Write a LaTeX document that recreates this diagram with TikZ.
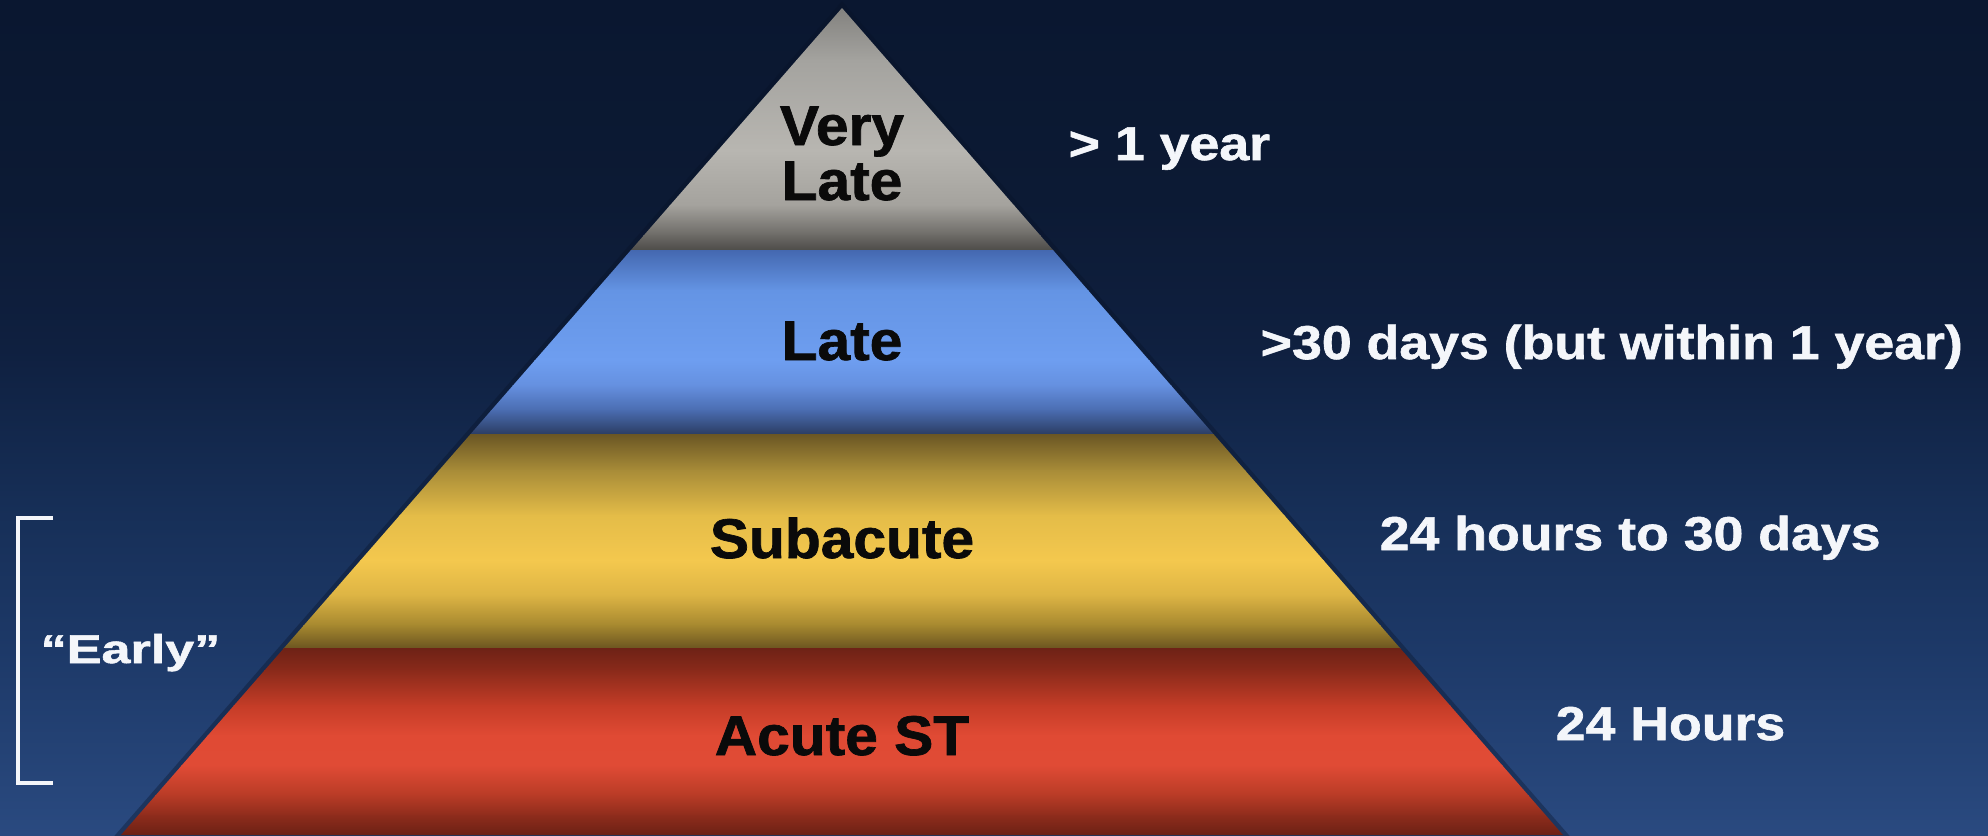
\documentclass[tikz,border=0pt]{standalone}
\usepackage{fontspec}
\setmainfont{Liberation Sans}[BoldFeatures={FakeBold=1.2}]
\usepackage{graphicx}
% background
\definecolor{bgA}{HTML}{0A1730}
\definecolor{bgB}{HTML}{0C1A34}
\definecolor{bgC}{HTML}{0F2040}
\definecolor{bgD}{HTML}{162E56}
\definecolor{bgE}{HTML}{1D3968}
\definecolor{bgF}{HTML}{2A4A80}
% gray band
\definecolor{gA}{HTML}{7E7D7A}
\definecolor{gB}{HTML}{A4A39F}
\definecolor{gC}{HTML}{B8B6B1}
\definecolor{gD}{HTML}{A4A29D}
\definecolor{gE}{HTML}{6C6A66}
\definecolor{gF}{HTML}{4C4B48}
% blue band
\definecolor{bA}{HTML}{4468B0}
\definecolor{bB}{HTML}{6494E4}
\definecolor{bC}{HTML}{6E9EF0}
\definecolor{bD}{HTML}{6590E0}
\definecolor{bE}{HTML}{4A6CB0}
\definecolor{bF}{HTML}{2A3C62}
% yellow band
\definecolor{yA}{HTML}{6A5624}
\definecolor{yB}{HTML}{A88C38}
\definecolor{yC}{HTML}{E4BC48}
\definecolor{yD}{HTML}{F4C84E}
\definecolor{yE}{HTML}{DDB444}
\definecolor{yF}{HTML}{A6882F}
\definecolor{yG}{HTML}{6A5420}
% red band
\definecolor{rA}{HTML}{6E2216}
\definecolor{rB}{HTML}{8A2A1A}
\definecolor{rC}{HTML}{C43C27}
\definecolor{rD}{HTML}{E04A34}
\definecolor{rE}{HTML}{E04B35}
\definecolor{rF}{HTML}{B83B26}
\definecolor{rG}{HTML}{8E2C1C}
\definecolor{rH}{HTML}{6A2014}
\definecolor{lblwhite}{HTML}{F4F6FA}
\definecolor{lblblack}{HTML}{0A0A0A}
\definecolor{edgeshadow}{HTML}{081226}

\newcommand\vgrad[4]{\shade[top color=#3, bottom color=#4, draw=none] (0,#1) rectangle (1988,#2+0.8);}

\tikzset{
  tierlabel/.style={inner sep=0pt, anchor=base, text=lblblack,
    font=\fontsize{15.9}{18}\selectfont\bfseries},
  timelabel/.style={inner sep=0pt, anchor=base west, text=lblwhite,
    font=\fontsize{13.5}{16}\selectfont\bfseries},
  earlylabel/.style={inner sep=0pt, anchor=base west, text=lblwhite,
    font=\fontsize{11.4}{14}\selectfont\bfseries},
  bracketline/.style={draw=lblwhite, line width=1.4pt},
}
\newcommand\tierstr[1]{\scalebox{1.05}[1]{#1}}
\newcommand\timestr[1]{\scalebox{1.13}[1]{#1}}

\begin{document}
\begin{tikzpicture}[x=0.01cm, y=-0.01cm]
\useasboundingbox (0,0) rectangle (1988,835);
% background
\vgrad{0}{200}{bgA}{bgB}
\vgrad{200}{350}{bgB}{bgC}
\vgrad{350}{500}{bgC}{bgD}
\vgrad{500}{650}{bgD}{bgE}
\vgrad{650}{835}{bgE}{bgF}

% pyramid
\coordinate (apex) at (842,8);
\coordinate (bl) at (121,835);
\coordinate (br) at (1563,835);
\draw[edgeshadow, opacity=0.35, line width=2.5pt, line join=miter] (apex) -- (br) -- (bl) -- cycle;
\begin{scope}
\clip (apex) -- (br) -- (bl) -- cycle;
% gray
\vgrad{0}{60}{gA}{gB}
\vgrad{60}{150}{gB}{gC}
\vgrad{150}{205}{gC}{gD}
\vgrad{205}{235}{gD}{gE}
\vgrad{235}{250}{gE}{gF}
% blue
\vgrad{250}{290}{bA}{bB}
\vgrad{290}{360}{bB}{bC}
\vgrad{360}{385}{bC}{bD}
\vgrad{385}{410}{bD}{bE}
\vgrad{410}{434}{bE}{bF}
% yellow
\vgrad{434}{470}{yA}{yB}
\vgrad{470}{515}{yB}{yC}
\vgrad{515}{560}{yC}{yD}
\vgrad{560}{595}{yD}{yE}
\vgrad{595}{625}{yE}{yF}
\vgrad{625}{648}{yF}{yG}
% red
\vgrad{648}{670}{rA}{rB}
\vgrad{670}{705}{rB}{rC}
\vgrad{705}{735}{rC}{rD}
\vgrad{735}{765}{rD}{rE}
\vgrad{765}{795}{rE}{rF}
\vgrad{795}{815}{rF}{rG}
\shade[top color=rG, bottom color=rH, draw=none] (0,815) rectangle (1988,836);
\end{scope}

% tier labels
\node[tierlabel] (verylate1) at (842,145) {\tierstr{Very}};
\node[tierlabel] (verylate2) at (842,200) {\tierstr{Late}};
\node[tierlabel] (late) at (842,360) {\tierstr{Late}};
\node[tierlabel] (subacute) at (842,558) {\tierstr{Subacute}};
\node[tierlabel] (acute) at (842,755) {\tierstr{Acute ST}};

% time labels
\node[timelabel] (t1) at (1068,160) {\timestr{> 1 year}};
\node[timelabel] (t2) at (1260,359) {\timestr{>30 days (but within 1 year)}};
\node[timelabel] (t3) at (1379,550) {\timestr{24 hours to 30 days}};
\node[timelabel] (t4) at (1555,740) {\timestr{24 Hours}};

% early bracket
\coordinate (bkA) at (53,518);
\coordinate (bkB) at (18,518);
\coordinate (bkC) at (18,783);
\coordinate (bkD) at (53,783);
\draw[bracketline] (bkA) -- (bkB) -- (bkC) -- (bkD);
\node[earlylabel] (early) at (40,663) {\scalebox{1.3}[1]{“Early”}};
\end{tikzpicture}
\end{document}
